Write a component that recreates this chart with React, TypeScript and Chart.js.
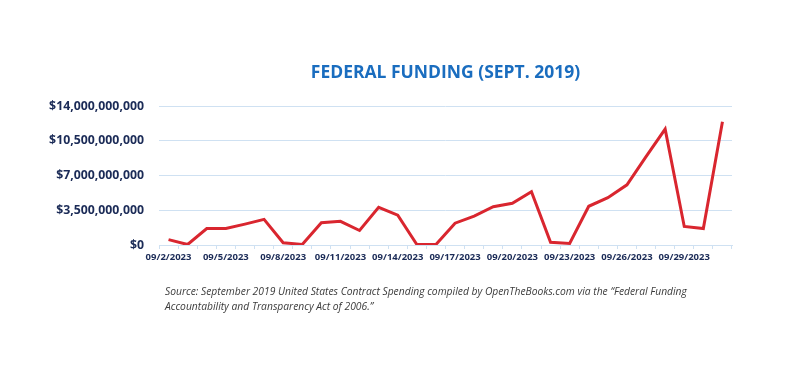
import React, { useEffect, useRef } from "react";
import { Chart, registerables } from "chart.js";

Chart.register(...registerables);

const categories: string[] = [
  "09/2/2023", "09/3/2023", "09/4/2023", "09/5/2023", "09/6/2023", "09/7/2023",
  "09/8/2023", "09/9/2023", "09/10/2023", "09/11/2023", "09/12/2023", "09/13/2023",
  "09/14/2023", "09/15/2023", "09/16/2023", "09/17/2023", "09/18/2023", "09/19/2023",
  "09/20/2023", "09/21/2023", "09/22/2023", "09/23/2023", "09/24/2023", "09/25/2023",
  "09/26/2023", "09/27/2023", "09/28/2023", "09/29/2023", "09/30/2023", "10/1/2023",
];

// Federal funding per day, in billions of dollars
const fundingBillions: number[] = [
  0.54, 0.05, 1.66, 1.66, 2.1, 2.58, 0.23, 0.05, 2.25, 2.38,
  1.46, 3.8, 3.0, 0.05, 0.05, 2.2, 2.9, 3.86, 4.2, 5.37,
  0.27, 0.16, 3.9, 4.76, 6.06, 8.9, 11.67, 1.87, 1.66, 12.42,
];

const yTicks: number[] = [0, 3500000000, 7000000000, 10500000000, 14000000000];

const titleText = "FEDERAL FUNDING (SEPT. 2019)";
const sourceText =
  "Source: September 2019 United States Contract Spending compiled by OpenTheBooks.com via the \u201cFederal Funding Accountability and Transparency Act of 2006.\u201d";

const NAVY = "#1b2b57";
const GRID = "#cfe1f2";
const RED = "#d9262f";
const BLUE = "#1a6dbf";

export default function App() {
  const ref = useRef<HTMLCanvasElement | null>(null);

  useEffect(() => {
    if (!ref.current) return;
    const chart = new Chart(ref.current, {
      type: "line",
      data: {
        labels: categories,
        datasets: [
          {
            data: fundingBillions.map((v) => v * 1e9),
            borderColor: RED,
            backgroundColor: RED,
            borderWidth: 3,
            pointRadius: 0,
            tension: 0,
            fill: false,
          },
        ],
      },
      options: {
        animation: false,
        responsive: false,
        maintainAspectRatio: false,
        layout: { padding: { top: 63, left: 0, right: 68, bottom: 110 } },
        plugins: {
          legend: { display: false },
          tooltip: { enabled: false },
          title: {
            display: true,
            text: titleText,
            fullSize: false,
            color: BLUE,
            font: { family: "'Open Sans'", size: 17.5, weight: "bold" },
            padding: { top: 0, bottom: 22 },
          },
        },
        scales: {
          x: {
            type: "category",
            offset: true,
            border: { display: true, color: GRID, width: 1 },
            grid: {
              display: true,
              drawOnChartArea: false,
              drawTicks: true,
              tickLength: 4,
              color: GRID,
              offset: true,
            },
            ticks: {
              autoSkip: false,
              maxRotation: 0,
              minRotation: 0,
              padding: 3,
              color: NAVY,
              font: { family: "'Open Sans'", size: 9.5, weight: "bold" },
              callback: (_v: any, i: number) => (i % 3 === 0 ? categories[i] : ""),
            },
            afterFit: (s: any) => {
              s.height = 26;
            },
          },
          y: {
            min: 0,
            max: 14000000000,
            border: { display: false },
            grid: { color: GRID, drawTicks: false, lineWidth: 1 },
            afterBuildTicks: (s: any) => {
              s.ticks = yTicks.map((v) => ({ value: v }));
            },
            afterFit: (s: any) => {
              s.width = 159;
            },
            ticks: {
              padding: 15,
              color: NAVY,
              font: { family: "'Open Sans'", size: 12.3, weight: "bold" },
              callback: (v: any) => "$" + Number(v).toLocaleString("en-US"),
            },
          },
        },
      },
    });
    return () => chart.destroy();
  }, []);

  return (
    <div
      style={{
        position: "fixed",
        left: 0,
        top: 0,
        width: 800,
        height: 381,
        background: "#ffffff",
      }}
    >
      <canvas ref={ref} width={800} height={381} style={{ position: "absolute", left: 0, top: 0 }} />
      <div
        style={{
          position: "absolute",
          left: 165,
          top: 284,
          width: 540,
          fontFamily: "'Open Sans', sans-serif",
          fontStyle: "italic",
          fontSize: 10.3,
          lineHeight: "15px",
          color: "#3b3b3b",
        }}
      >
        {sourceText}
      </div>
    </div>
  );
}
